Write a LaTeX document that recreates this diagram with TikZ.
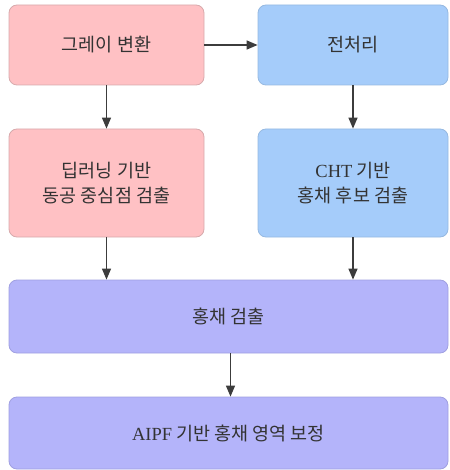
\documentclass[tikz,border=0pt]{standalone}
\usepackage{fontspec}
\setmainfont{Liberation Serif}
\newfontfamily\kr{Noto Sans CJK KR}[Scale=1]
\usetikzlibrary{arrows.meta}
\definecolor{pinkfill}{RGB}{255,193,196}
\definecolor{pinkline}{RGB}{215,170,172}
\definecolor{bluefill}{RGB}{165,204,250}
\definecolor{blueline}{RGB}{150,185,225}
\definecolor{lavfill}{RGB}{180,180,250}
\definecolor{lavline}{RGB}{160,160,225}
\definecolor{txt}{RGB}{51,51,51}
\definecolor{arr}{RGB}{60,60,60}
\tikzset{
  box/.style={draw, line width=0.8pt, rounded corners=8pt, inner sep=0pt, text=txt,
    font=\kr\fontsize{18.5}{25}\selectfont, align=center},
  pinkbox/.style={box, fill=pinkfill, draw=pinkline},
  bluebox/.style={box, fill=bluefill, draw=blueline},
  lavbox/.style={box, fill=lavfill, draw=lavline},
  conn/.style={draw=arr, line width=1.3pt, -{Triangle[length=11pt,width=9pt]}, shorten >=0pt}
}
\begin{document}
\begin{tikzpicture}[x=1pt,y=-1pt]
\useasboundingbox (0,0) rectangle (449,470);
\node[pinkbox, minimum width=195pt, minimum height=80pt] (gray) at (106.5,45) {그레이 변환};
\node[bluebox, minimum width=190pt, minimum height=80pt] (pre) at (353,45) {전처리};
\node[pinkbox, minimum width=195pt, minimum height=108pt] (dl) at (106.5,183) {딥러닝 기반\\동공 중심점 검출};
\node[bluebox, minimum width=190pt, minimum height=108pt] (cht) at (353,183) {{\rmfamily CHT} 기반\\홍채 후보 검출};
\node[lavbox, minimum width=439pt, minimum height=73pt] (iris) at (228.5,316.5) {홍채 검출};
\node[lavbox, minimum width=439pt, minimum height=72pt] (aipf) at (228.5,433) {{\rmfamily AIPF} 기반 홍채 영역 보정};
\draw[conn] (gray.east) -- (pre.west);
\draw[conn] (gray.south) -- (dl.north);
\draw[conn] (pre.south) -- (pre.south |- cht.north);
\draw[conn] (dl.south) -- (dl.south |- iris.north);
\draw[conn] (cht.south) -- (cht.south |- iris.north);
\draw[conn] ([xshift=2pt]iris.south) -- ([xshift=2pt]aipf.north);
\end{tikzpicture}
\end{document}
